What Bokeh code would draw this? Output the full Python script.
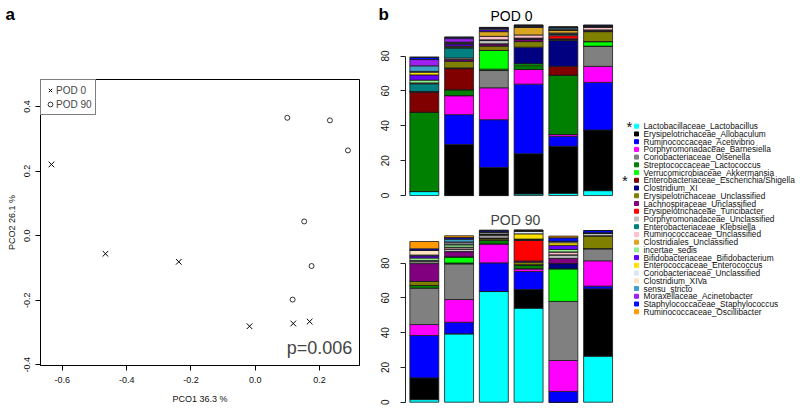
from bokeh.plotting import figure
from bokeh.models import (Range1d, FixedTicker, PrintfTickFormatter, Legend, LegendItem,
                          Label, ColumnDataSource)
from bokeh.layouts import row, column
from bokeh.embed import file_html
from bokeh.resources import INLINE
from bokeh.core.properties import value

FONT = "Liberation Sans"

# ---------------- data: panel a (PCoA) ----------------
pod0_pco1 = [-0.634, -0.466, -0.238, -0.018, 0.118, 0.169]
pod0_pco2 = [0.2205, -0.056, -0.081, -0.2805, -0.272, -0.266]
pod90_pco1 = [0.0995, 0.232, 0.288, 0.152, 0.175, 0.116]
pod90_pco2 = [0.365, 0.357, 0.264, 0.044, -0.094, -0.198]
pco1_ticks = [-0.6, -0.4, -0.2, 0.0, 0.2]
pco2_ticks = [-0.4, -0.2, 0.0, 0.2, 0.4]

# ---------------- data: panel b (relative abundance %) ----------------
taxa = [
    "Lactobacillaceae_Lactobacillus", "Erysipelotrichaceae_Allobaculum",
    "Ruminococcaceae_Acetivibrio", "Porphyromonadaceae_Barnesiella",
    "Coriobacteriaceae_Olsenella", "Streptococcaceae_Lactococcus",
    "Verrucomicrobiaceae_Akkermansia", "Enterobacteriaceae_Escherichia/Shigella",
    "Clostridium_XI", "Erysipelotrichaceae_Unclassified",
    "Lachnospiraceae_Unclassified", "Erysipelotrichaceae_Turicibacter",
    "Porphyromonadaceae_Unclassified", "Enterobacteriaceae_Klebsiella",
    "Ruminococcaceae_Unclassified", "Clostridiales_Unclassified",
    "incertae_sedis", "Bifidobacteriaceae_Bifidobacterium",
    "Enterococcaceae_Enterococcus", "Coriobacteriaceae_Unclassified",
    "Clostridium_XIVa", "sensu_stricto", "Moraxellaceae_Acinetobacter",
    "Staphylococcaceae_Staphylococcus", "Ruminococcaceae_Oscillibacter",
]
taxa_colors = [
    "#00ffff", "#000000", "#0000ff", "#ff00ff", "#808080", "#008000", "#00ff00",
    "#800000", "#000080", "#808000", "#800080", "#ff0000", "#c0c0c0", "#008080",
    "#ffc0cb", "#daa520", "#90ee90", "#6600ff", "#ffe000", "#dae6f5", "#ffe4c4",
    "#3fa0c8", "#a020f0", "#0010ff", "#ff9900",
]
starred = ["Lactobacillaceae_Lactobacillus", "Enterobacteriaceae_Escherichia/Shigella"]

POD0_S1 = [2.3, 0, 0, 0, 0, 45.5, 0, 11.4, 0.5, 0, 0, 0, 0, 4.4, 0.5, 0, 1.6, 3.0, 1.5, 0.5, 0, 3.2, 3.6, 1.3, 0]
POD0_S2 = [0, 29.3, 17.1, 10.9, 0, 3.4, 0, 12.1, 0.4, 3.8, 1.0, 0, 0.9, 5.7, 0.4, 0.4, 0.3, 1.2, 0.2, 0.3, 0.2, 0.4, 2.0, 0.8, 0]
POD0_S3 = [0, 16.1, 27.4, 18.3, 9.9, 0.8, 10.7, 0, 0, 2.5, 1.3, 0, 1.9, 0.4, 2.0, 2.7, 0.3, 1.0, 0, 0.5, 0, 0, 0, 0.6, 0]
POD0_S4 = [0.9, 23.1, 39.9, 8.4, 0, 2.2, 1.1, 0, 9.5, 3.2, 1.5, 0, 0.5, 0, 1.8, 4.4, 0, 0.5, 0, 0.3, 0, 0.3, 0, 0.2, 0]
POD0_S5 = [1.3, 26.9, 5.8, 1.0, 0, 34.0, 0, 5.1, 14.8, 0.6, 0.4, 1.8, 0.6, 0.5, 0.4, 1.8, 0, 0, 0, 0.6, 0, 0.8, 0, 0.3, 0]
POD0_S6 = [2.8, 34.8, 27.3, 9.2, 11.6, 0, 2.6, 0, 0, 5.7, 0.5, 0, 0.5, 0, 1.7, 0, 0, 0.6, 0, 0, 0, 0, 0, 0.5, 0]

POD90_S1 = [1.5, 12.5, 24.4, 6.3, 20.9, 1.6, 0, 0, 0, 2.3, 10.3, 0, 1.1, 0, 0.6, 0, 1.5, 1.3, 0, 0.4, 2.8, 0, 0, 0.8, 4.2]
POD90_S2 = [39.4, 0, 6.6, 13.1, 20.5, 0.5, 3.6, 0, 0, 0, 3.0, 0, 1.5, 0, 1.0, 0, 1.5, 0, 0, 1.0, 0.5, 1.8, 0, 0.8, 1.0]
POD90_S3 = [63.7, 0, 16.5, 10.9, 0, 2.0, 0, 0, 0, 0.9, 0.5, 0, 1.4, 0, 0.9, 0, 0, 0, 0, 0.8, 0.5, 0, 0, 0.8, 0]
POD90_S4 = [54.1, 10.8, 10.3, 1.6, 0, 2.3, 0, 0, 0, 1.5, 0.7, 11.9, 0, 0.4, 0.3, 0, 0, 0, 3.0, 1.4, 0.4, 0, 0, 0.3, 0]
POD90_S5 = [0, 0, 6.2, 17.8, 34.0, 0, 18.8, 0, 3.0, 0, 3.0, 0, 2.0, 0, 1.7, 0, 1.4, 2.4, 1.5, 0.8, 0, 0, 0, 2.0, 1.0]
POD90_S6 = [26.5, 38.7, 1.6, 14.6, 7.0, 0, 0, 0, 0, 7.4, 0, 0, 1.3, 0, 0.4, 0, 0, 0, 0, 0, 0, 0, 0, 1.3, 0]

pod0_samples = [POD0_S1, POD0_S2, POD0_S3, POD0_S4, POD0_S5, POD0_S6]
pod90_samples = [POD90_S1, POD90_S2, POD90_S3, POD90_S4, POD90_S5, POD90_S6]
bar_ticks = [0, 20, 40, 60, 80]

# ---------------- header strip (panel letters, first title) ----------------
HD_H = 24
hd = figure(frame_width=617, frame_height=HD_H, output_backend="svg", toolbar_location=None,
            x_axis_location=None, y_axis_location=None,
            x_range=Range1d(0, 617), y_range=Range1d(0, HD_H),
            min_border_left=0, min_border_right=0, min_border_top=0, min_border_bottom=0)
hd.grid.visible = False
hd.outline_line_color = None
hd.text(x=[5, 378], y=[HD_H - 13.5, HD_H - 13.5], text=["a", "b"], text_font=value(FONT),
        text_font_size="17px", text_font_style="bold", text_baseline="middle",
        text_align="left", text_color="black")
hd.text(x=[490], y=[HD_H - 15.6], text=["POD 0"], text_font=value(FONT),
        text_font_size="14px", text_baseline="middle", text_align="left",
        text_color="black")

# ---------------- panel a ----------------
pa = figure(frame_width=319, frame_height=286, output_backend="svg", toolbar_location=None,
            x_range=Range1d(-0.668, 0.324), y_range=Range1d(-0.402, 0.4835),
            min_border_left=40, min_border_right=13, min_border_top=79 - HD_H,
            min_border_bottom=41)
pa.grid.visible = False
pa.outline_line_color = "black"
pa.outline_line_width = 1
for ax in (pa.xaxis[0], pa.yaxis[0]):
    ax.major_tick_out = 5
    ax.major_tick_in = 0
    ax.minor_tick_out = 0
    ax.minor_tick_in = 0
    ax.axis_line_color = "black"
    ax.major_tick_line_color = "black"
    ax.major_label_text_font = FONT
    ax.major_label_text_font_size = "9px"
    ax.major_label_text_color = "#111111"
    ax.axis_label_text_font = FONT
    ax.axis_label_text_font_size = "9px"
    ax.axis_label_text_font_style = "normal"
    ax.axis_label_text_color = "#111111"
    ax.formatter = PrintfTickFormatter(format="%.1f")
pa.xaxis.ticker = FixedTicker(ticks=pco1_ticks)
pa.yaxis.ticker = FixedTicker(ticks=pco2_ticks)
pa.xaxis.major_label_standoff = 6
pa.xaxis.axis_label_standoff = 8
pa.yaxis.major_label_standoff = 5
pa.yaxis.axis_label_standoff = 5
pa.yaxis.major_label_orientation = "vertical"
pa.xaxis.axis_label = "PCO1 36.3 %"
pa.yaxis.axis_label = "PCO2 26.1 %"

r0 = pa.scatter(pod0_pco1, pod0_pco2, marker="x", size=8, line_color="black", line_width=1)
r1 = pa.scatter(pod90_pco1, pod90_pco2, marker="circle", size=5, fill_color=None,
                line_color="black", line_width=0.8)
leg = Legend(items=[LegendItem(label="POD 0", renderers=[r0]),
                    LegendItem(label="POD 90", renderers=[r1])],
             location="top_left", margin=0, padding=3, spacing=0,
             glyph_width=12, glyph_height=14, label_height=14, label_standoff=0,
             label_text_font=FONT, label_text_font_size="10px",
             border_line_color="black", border_line_width=1, background_fill_alpha=1)
pa.add_layout(leg)
pa.add_layout(Label(x=0.3015, y=-0.348, text="p=0.006", text_align="right",
                    text_baseline="middle", text_font=FONT, text_font_size="18px"))

# ---------------- panel b ----------------
bar_x = [0.7 + 1.2 * i for i in range(len(pod0_samples))]


def bar_panel(samples, y_end, y_start, frame_h, border_bottom):
    p = figure(frame_width=212, frame_height=frame_h, output_backend="svg",
               toolbar_location=None, x_axis_location=None,
               x_range=Range1d(0.05, 7.37), y_range=Range1d(y_start, y_end),
               min_border_left=33, min_border_right=0, min_border_top=0,
               min_border_bottom=border_bottom)
    p.grid.visible = False
    p.outline_line_color = None
    data = {"x": bar_x}
    for k, t in enumerate(taxa):
        data[t] = [s[k] for s in samples]
    src = ColumnDataSource(data)
    p.vbar_stack(taxa, x="x", width=1, fill_color=taxa_colors, line_color="#1a1a1a",
                 line_width=0.8, source=src)
    ax = p.yaxis[0]
    ax.ticker = FixedTicker(ticks=bar_ticks)
    ax.bounds = (0, 80)
    ax.major_label_orientation = "vertical"
    ax.major_tick_out = 5
    ax.major_tick_in = 0
    ax.minor_tick_out = 0
    ax.minor_tick_in = 0
    ax.major_label_standoff = 11
    ax.major_label_text_font = FONT
    ax.major_label_text_font_size = "10px"
    ax.major_label_text_color = "#111111"
    ax.axis_line_color = "#222222"
    ax.major_tick_line_color = "#222222"
    return p


pb = bar_panel(pod0_samples, 98.1, -1.702, 198 - HD_H, 7)
pc = bar_panel(pod90_samples, 113.21, -2.47, 201, 0)
pc.add_layout(Label(x=2.985, y=104.6, text="POD 90", text_align="left",
                    text_baseline="middle", text_font=FONT, text_font_size="14px"))

# ---------------- legend panel ----------------
rows = list(range(len(taxa)))
pd_ = figure(frame_width=183, frame_height=406, output_backend="svg", toolbar_location=None,
             x_axis_location=None, y_axis_location=None,
             x_range=Range1d(0, 183), y_range=Range1d(36.26, -16.26),
             min_border_left=0, min_border_right=0, min_border_top=0, min_border_bottom=0)
pd_.grid.visible = False
pd_.outline_line_color = None
pd_.scatter(x=[19] * len(taxa), y=rows, marker="square", size=4, color=taxa_colors)
pd_.text(x=[26] * len(taxa), y=rows, text=taxa, text_font=value(FONT), text_font_size="8.3px",
         text_baseline="middle", text_align="left", text_color="#111111")
star_rows = [taxa.index(t) for t in starred]
pd_.text(x=[12, 7.5], y=star_rows, text=["*"] * len(star_rows), text_font=value(FONT),
         text_font_size="15px", text_baseline="middle", text_align="center", text_color="#111111")

layout = row(column(hd, row(pa, column(pb, pc))), pd_)
open("out.html", "w").write(file_html(layout, INLINE))
